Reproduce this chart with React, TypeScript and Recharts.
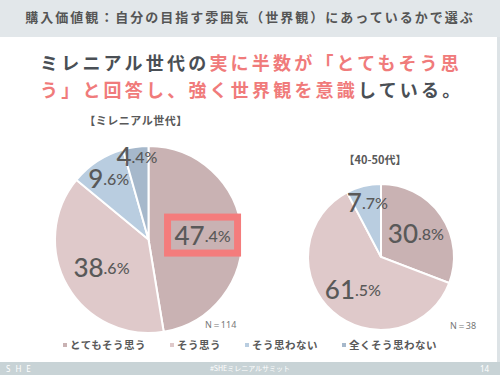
import React from 'react';
import { PieChart, Pie, Cell, Legend } from 'recharts';

const categories = ['とてもそう思う', 'そう思う', 'そう思わない', '全くそう思わない'];
const millennialValues = [47.4, 38.6, 9.6, 4.4];
const seniorValues = [30.8, 61.5, 7.7];
const colors = ['#c9b2b3', '#dfc9ca', '#b9cde0', '#a6b8cb'];

const millennialData = millennialValues.map((v, i) => ({ name: categories[i], value: v }));
const seniorData = seniorValues.map((v, i) => ({ name: categories[i], value: v }));

const RAD = Math.PI / 180;
const labelColor = '#595959';

// small slices get their label pushed further out
const labelRadius = (percent: number) => (percent > 0.3 ? 0.58 : percent > 0.06 ? 0.78 : 0.9);

const makeLabel = (highlightIndex: number) => (props: any) => {
  const { cx, cy, midAngle, outerRadius, value, percent, index } = props;
  const r = outerRadius * labelRadius(percent);
  const x = cx + r * Math.cos(-midAngle * RAD);
  const y = cy + r * Math.sin(-midAngle * RAD);
  const [whole, dec] = Number(value).toFixed(1).split('.');
  return (
    <g key={`lbl-${index}`}>
      {index === highlightIndex && (
        <rect x={x - 35} y={y - 18} width={70} height={36} fill="none" stroke="#f47c7c" strokeWidth={7} />
      )}
      <text
        x={x}
        y={y}
        textAnchor="middle"
        dominantBaseline="central"
        fill={labelColor}
        fontFamily="Lato, 'Noto Sans', sans-serif"
        fontWeight={500}
      ><tspan fontSize={26}>{whole}</tspan><tspan fontSize={16}>{'.' + dec + '%'}</tspan></text>
    </g>
  );
};

const LegendContent = (props: any) => {
  const items = categories
    .map((c) => (props.payload || []).find((p: any) => p.value === c))
    .filter(Boolean);
  return (
    <div style={{ display: 'flex', justifyContent: 'center', gap: 24 }}>
      {items.map((p: any) => (
        <div key={p.value} style={{ display: 'flex', alignItems: 'center' }}>
          <span style={{ width: 4, height: 4, background: p.color, marginRight: 3, display: 'inline-block' }} />
          <span style={{ fontSize: 10.5, fontWeight: 700, color: '#595959', letterSpacing: 0.5 }}>{p.value}</span>
        </div>
      ))}
    </div>
  );
};

const jp = "'Noto Sans CJK JP', 'Noto Sans', sans-serif";

export default function App() {
  return (
    <div style={{ position: 'fixed', left: 0, top: 0, width: 500, height: 375, background: '#fff', overflow: 'hidden', fontFamily: jp }}>
      <div style={{ position: 'absolute', left: 0, top: 0, width: 500, height: 37, background: '#e2e7ea' }} />
      <div style={{ position: 'absolute', right: 0, top: 37, width: 3, height: 325, background: '#dde3e6' }} />
      <div style={{ position: 'absolute', left: 0, top: 8, width: 500, textAlign: 'center', fontSize: 13, fontWeight: 700, color: '#555', letterSpacing: 2, lineHeight: '18px' }}>
        購入価値観：自分の目指す雰囲気（世界観）にあっているかで選ぶ
      </div>
      <div style={{ position: 'absolute', left: 40, top: 49, width: 450, fontSize: 18, fontWeight: 700, letterSpacing: 3.2, lineHeight: '27px', color: '#4a4f55' }}>
        <div>ミレニアル世代の<span style={{ color: '#f07b7b' }}>実に半数が「とてもそう思</span></div>
        <div><span style={{ color: '#f07b7b' }}>う」と回答し、強く世界観を意識</span>している。</div>
      </div>
      <div style={{ position: 'absolute', left: 76, top: 112, width: 120, textAlign: 'center', fontSize: 11, fontWeight: 700, color: '#595959', letterSpacing: 0.5, whiteSpace: 'nowrap' }}>【ミレニアル世代】</div>
      <div style={{ position: 'absolute', left: 325, top: 151, width: 100, textAlign: 'center', fontSize: 11, fontWeight: 700, color: '#595959', whiteSpace: 'nowrap' }}>【40-50代】</div>
      <div style={{ position: 'absolute', left: 205, top: 318, fontSize: 9, color: '#777', fontFamily: "'Noto Sans', sans-serif" }}>N＝114</div>
      <div style={{ position: 'absolute', left: 450, top: 319, fontSize: 9, color: '#777', fontFamily: "'Noto Sans', sans-serif" }}>N＝38</div>

      <div style={{ position: 'absolute', left: 0, top: 0 }}>
        <PieChart width={500} height={375}>
          <Pie
            data={millennialData}
            dataKey="value"
            nameKey="name"
            cx={143.5}
            cy={234.5}
            outerRadius={93.5}
            startAngle={90}
            endAngle={-270}
            stroke="#fff"
            strokeWidth={2}
            labelLine={false}
            label={makeLabel(0)}
            isAnimationActive={false}
          >
            {millennialData.map((_, i) => (
              <Cell key={`m-${i}`} fill={colors[i]} />
            ))}
          </Pie>
          <Pie
            data={seniorData}
            dataKey="value"
            nameKey="name"
            cx={376}
            cy={252}
            outerRadius={73}
            startAngle={90}
            endAngle={-270}
            stroke="#fff"
            strokeWidth={2}
            labelLine={false}
            label={makeLabel(-1)}
            isAnimationActive={false}
          >
            {seniorData.map((_, i) => (
              <Cell key={`s-${i}`} fill={colors[i]} />
            ))}
          </Pie>
          <Legend
            content={<LegendContent />}
            wrapperStyle={{ position: 'absolute', left: 0, top: 337, width: 500, bottom: 'auto' }}
          />
        </PieChart>
      </div>

      <div style={{ position: 'absolute', left: 0, top: 362, width: 500, height: 13, background: '#c8d3d6' }} />
      <div style={{ position: 'absolute', left: 6, top: 362, fontSize: 8, color: '#fff', letterSpacing: 5, lineHeight: '13px', fontFamily: "'Noto Sans', sans-serif" }}>SHE</div>
      <div style={{ position: 'absolute', left: 0, top: 362, width: 500, textAlign: 'center', fontSize: 7, color: '#fff', lineHeight: '13px' }}>#SHEミレニアルサミット</div>
      <div style={{ position: 'absolute', left: 480, top: 362, fontSize: 8, color: '#fff', lineHeight: '13px', fontFamily: "'Noto Sans', sans-serif" }}>14</div>
    </div>
  );
}
